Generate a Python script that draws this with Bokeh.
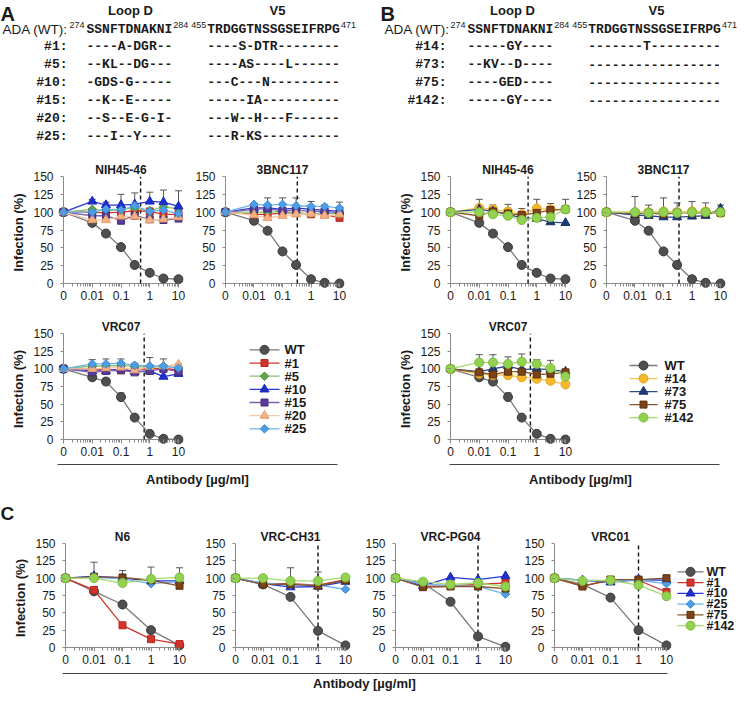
import math
from bokeh.plotting import figure
from bokeh.models import Range1d, FixedTicker, Whisker, TeeHead, ColumnDataSource
from bokeh.layouts import column, row
from bokeh.embed import file_html
from bokeh.resources import INLINE
from bokeh.core.properties import value

SANS = "Liberation Sans"
MONO = "Liberation Mono"
INK = "#1a1a1a"
AXIS = "#8a8a8a"
ERR = "#555555"
PI = math.pi

# ---------------- data ----------------
CONC_AB = [0, 0.01, 0.03, 0.1, 0.3, 1, 3, 10]
CONC_C = [0, 0.01, 0.1, 1, 10]
ZERO_AT = 0.001                      # the "0" concentration sits at the axis minimum
X_MAX = 10
Y_MAX = 150
X_TICKS = [0.001, 0.01, 0.1, 1, 10]
X_TICK_LABELS = ["0", "0.01", "0.1", "1", "10"]
Y_TICKS = [0, 25, 50, 75, 100, 125, 150]

SERIES_A = ["WT", "#1", "#5", "#10", "#15", "#20", "#25"]
SERIES_B = ["WT", "#14", "#73", "#75", "#142"]
SERIES_C = ["WT", "#1", "#10", "#25", "#75", "#142"]

wt_nih = [100, 85, 70, 51, 26, 15, 7, 6]
wt_3bnc = [100, 88, 74, 45, 26, 6, 1, 0]
wt_vrc07 = [100, 88, 82, 60, 31, 8, 1, 0]

a_nih = {"WT": wt_nih,
         "#1": [100, 100, 99, 100, 102, 101, 97, 97],
         "#5": [100, 104, 102, 104, 106, 102, 107, 105],
         "#10": [100, 115, 110, 110, 111, 115, 114, 108],
         "#15": [100, 95, 95, 88, 95, 90, 89, 91],
         "#20": [100, 89, 89, 94, 94, 89, 90, 93],
         "#25": [100, 100, 104, 103, 109, 101, 103, 98]}
a_3bnc = {"WT": wt_3bnc,
          "#1": [100, 97, 97, 99, 99, 97, 97, 92],
          "#5": [100, 100, 100, 101, 99, 98, 99, 97],
          "#10": [100, 106, 106, 104, 106, 104, 103, 101],
          "#15": [100, 104, 105, 102, 103, 101, 101, 99],
          "#20": [100, 96, 92, 95, 97, 98, 95, 97],
          "#25": [100, 111, 110, 111, 109, 108, 108, 106]}
a_vrc07 = {"WT": wt_vrc07,
           "#1": [100, 100, 99, 98, 99, 100, 101, 98],
           "#5": [100, 104, 104, 105, 103, 102, 104, 101],
           "#10": [100, 97, 97, 100, 96, 97, 89, 93],
           "#15": [100, 95, 97, 98, 95, 97, 100, 96],
           "#20": [100, 100, 101, 102, 98, 103, 104, 106],
           "#25": [100, 107, 107, 108, 105, 104, 104, 101]}
b_nih = {"WT": wt_nih,
         "#14": [100, 106, 104, 101, 97, 105, 104, 104],
         "#73": [100, 104, 101, 97, 92, 91, 86, 85],
         "#75": [100, 95, 101, 98, 96, 99, 103, 104],
         "#142": [100, 100, 97, 95, 89, 92, 93, 104]}
b_3bnc = {"WT": wt_3bnc,
          "#14": [100, 100, 100, 101, 100, 101, 101, 99],
          "#73": [100, 96, 95, 93, 93, 94, 95, 105],
          "#75": [100, 98, 99, 97, 99, 99, 99, 99],
          "#142": [100, 100, 99, 100, 99, 100, 100, 100]}
b_vrc07 = {"WT": wt_vrc07,
           "#14": [100, 93, 91, 91, 88, 86, 83, 78],
           "#73": [100, 96, 100, 104, 99, 100, 99, 96],
           "#75": [100, 95, 92, 96, 96, 92, 93, 95],
           "#142": [100, 109, 109, 107, 110, 107, 101, 89]}

c_n6 = {"WT": [100, 81, 62, 25, 3],
        "#1": [100, 83, 32, 12, 5],
        "#10": [100, 103, 100, 96, 96],
        "#25": [100, 101, 99, 92, 95],
        "#75": [100, 102, 101, 97, 89],
        "#142": [100, 100, 93, 99, 101]}
c_ch31 = {"WT": [100, 91, 73, 24, 3],
          "#1": [100, 92, 92, 90, 98],
          "#10": [100, 92, 87, 88, 95],
          "#25": [100, 93, 90, 90, 84],
          "#75": [100, 91, 91, 89, 97],
          "#142": [100, 100, 96, 96, 101]}
c_pg04 = {"WT": [100, 93, 66, 16, 1],
          "#1": [100, 88, 89, 91, 93],
          "#10": [100, 89, 101, 98, 103],
          "#25": [100, 91, 90, 88, 77],
          "#75": [100, 87, 88, 88, 85],
          "#142": [100, 95, 91, 93, 88]}
c_vrc01 = {"WT": [100, 91, 72, 25, 3],
           "#1": [100, 89, 97, 97, 80],
           "#10": [100, 97, 94, 98, 97],
           "#25": [100, 97, 96, 97, 92],
           "#75": [100, 88, 98, 98, 100],
           "#142": [100, 96, 97, 90, 74]}

# upper error bars (0 = none visible)
a_nih_err = {"#10": [0, 3, 4, 15, 16, 13, 17, 22]}
a_3bnc_err = {"#25": [0, 0, 10, 9, 11, 7, 2, 8], "WT": [0, 0, 0, 0, 5, 0, 0, 0]}
a_vrc07_err = {"#25": [0, 6, 7, 6, 3, 12, 10, 6], "WT": [0, 0, 0, 6, 0, 0, 0, 0]}
b_nih_err = {"#14": [0, 12, 6, 10, 8, 13, 8, 14]}
b_3bnc_err = {"#14": [0, 22, 10, 19, 13, 14, 12, 11], "WT": [0, 0, 0, 0, 5, 0, 0, 0]}
b_vrc07_err = {"#142": [0, 11, 11, 10, 11, 6, 11, 0], "WT": [0, 0, 0, 6, 0, 0, 0, 0]}
c_n6_err = {"#10": [0, 20, 0, 0, 0], "#75": [0, 0, 10, 0, 0], "#142": [0, 0, 0, 17, 14]}
c_ch31_err = {"#142": [0, 0, 19, 13, 0]}

# dashed reference concentrations
A_DASH = [0.48, 0.33, 0.64]
B_DASH = [0.5, 0.35, 0.6]
C_DASH = [None, 1, 1, 1]

# sequence panel text
WT_LOOPD = "SSNFTDNAKNI"
WT_V5 = "TRDGGTNSSGSEIFRPG"
SUPS = ["274", "284", "455", "471"]
A_NAMES = ["#1:", "#5:", "#10:", "#15:", "#20:", "#25:"]
A_LOOPD = ["----A-DGR--", "--KL--DG---", "-GDS-G-----", "--K--E-----", "--S--E-G-I-", "---I--Y----"]
A_V5 = ["----S-DTR--------", "----AS----L------", "---C---N---------", "-----IA----------",
        "---W--H---F------", "---R-KS----------"]
B_NAMES = ["#14:", "#73:", "#75:", "#142:"]
B_LOOPD = ["-----GY----", "--KV--D----", "----GED----", "-----GY----"]
B_V5 = ["-------T---------", "-----------------", "-----------------", "-----------------"]

STYLE = {
    "WT":   dict(m="circle",   s=9, f="#4f4f4f", o="#3a3a3a", lc="#7a7a7a", a=0.0),
    "#1":   dict(m="square",   s=7, f="#d0342c", o="#b82820", lc="#d0342c", a=0.0),
    "#5":   dict(m="square",   s=6, f="#62a84c", o="#4e9038", lc="#84c270", a=PI / 4),
    "#10":  dict(m="triangle", s=9, f="#1f2fcf", o="#1a27b0", lc="#2638d6", a=0.0),
    "#15":  dict(m="square",   s=7, f="#593c97", o="#46307a", lc="#7a62b3", a=0.0),
    "#20":  dict(m="triangle", s=9, f="#f3b184", o="#e59d6a", lc="#f6c7a6", a=0.0),
    "#25":  dict(m="square",   s=6, f="#4d9ee6", o="#3a89d0", lc="#6db3ee", a=PI / 4),
    "#14":  dict(m="circle",   s=9, f="#f6b92e", o="#e3a31a", lc="#f3c650", a=0.0),
    "#73":  dict(m="triangle", s=9, f="#1d3a7a", o="#142c62", lc="#2a4a8a", a=0.0),
    "#75":  dict(m="square",   s=7, f="#7a4318", o="#5e3210", lc="#8a5428", a=0.0),
    "#142": dict(m="circle",   s=9, f="#93d150", o="#7cbc3a", lc="#a6d972", a=0.0),
}

MINOR = [k * 10.0 ** d for d in range(-3, 1) for k in range(2, 10)]
PAD = 5   # px of room around the axes so edge markers are not clipped


def xs_of(conc):
    return [c if c > 0 else ZERO_AT for c in conc]


def make_plot(title, conc, data, names, err, dash, box, axes, ylabel=False, title_offset=0):
    fig_l, fig_t, fig_r, fig_b = box
    x0, x1, ytop, ybot = axes
    fl, fr, ft, fb = x0 - PAD, x1 + PAD, ytop, ybot + PAD
    dec_px = 4.0 / (x1 - x0)
    u_px = float(Y_MAX) / (ybot - ytop)
    p = figure(width=fig_r - fig_l, height=fig_b - fig_t, x_axis_type="log",
               x_range=Range1d(10 ** (-3 - PAD * dec_px), 10 ** (1 + PAD * dec_px)),
               y_range=Range1d(-PAD * u_px, Y_MAX),
               min_border_left=fl - fig_l, min_border_right=fig_r - fr,
               min_border_top=ft - fig_t, min_border_bottom=fig_b - fb,
               output_backend="svg", toolbar_location=None, title=title)
    p.outline_line_color = None
    p.xgrid.visible = False
    p.ygrid.visible = False
    t = p.title
    t.align = "center"
    t.text_font = SANS
    t.text_font_size = "12px"
    t.text_font_style = "bold"
    t.text_color = INK
    t.offset = title_offset
    if "standoff" in t.properties():
        t.standoff = 0

    xa = p.xaxis[0]
    ya = p.yaxis[0]
    xa.ticker = FixedTicker(ticks=X_TICKS, minor_ticks=MINOR)
    xa.major_label_overrides = dict(zip(X_TICKS, X_TICK_LABELS))
    xa.bounds = (ZERO_AT, X_MAX)
    ya.ticker = FixedTicker(ticks=Y_TICKS, minor_ticks=[])
    ya.bounds = (0, Y_MAX)
    for ax in (xa, ya):
        ax.axis_line_color = None
        ax.major_tick_line_color = AXIS
        ax.minor_tick_line_color = AXIS
        ax.major_label_text_font = SANS
        ax.major_label_text_font_size = "12px"
        ax.major_label_text_color = INK
    # ticks start at the drawn axis line (PAD px inside the frame edge)
    xa.major_tick_in = PAD
    xa.major_tick_out = -1
    xa.minor_tick_in = PAD
    xa.minor_tick_out = -2
    xa.major_label_standoff = 3
    ya.major_tick_in = PAD
    ya.major_tick_out = -2
    ya.minor_tick_in = 0
    ya.minor_tick_out = -2
    ya.major_label_standoff = 5
    if ylabel:
        ya.axis_label = "Infection (%)"
        ya.axis_label_text_font = SANS
        ya.axis_label_text_font_size = "13px"
        ya.axis_label_text_font_style = "bold"
        ya.axis_label_text_color = INK
        ya.axis_label_standoff = 4

    # axis lines at concentration "0" and at 0 % infection
    p.segment(x0=[ZERO_AT, ZERO_AT], y0=[0, 0], x1=[X_MAX, ZERO_AT], y1=[0, Y_MAX],
              line_color=AXIS, line_width=1)

    if dash is not None:
        p.segment(x0=[dash], y0=[0], x1=[dash], y1=[Y_MAX], line_color="#111111",
                  line_width=1.4, line_dash="4 3")

    xs = xs_of(conc)
    for n, e in err.items():
        idx = [i for i, v in enumerate(e) if v > 0]
        src = ColumnDataSource(dict(x=[xs[i] for i in idx],
                                    lo=[data[n][i] for i in idx],
                                    hi=[data[n][i] + e[i] for i in idx]))
        p.add_layout(Whisker(source=src, base="x", lower="lo", upper="hi", dimension="height",
                             line_color=ERR, line_width=1,
                             upper_head=TeeHead(size=7, line_color=ERR, line_width=1),
                             lower_head=None))
    for n in names:
        st = STYLE[n]
        p.line(xs, data[n], line_color=st["lc"], line_width=1.3)
        p.scatter(xs, data[n], marker=st["m"], size=st["s"], fill_color=st["f"],
                  line_color=st["o"], angle=st["a"])
    return p


def canvas(left, top, w, h):
    p = figure(width=w, height=h, x_range=Range1d(left, left + w), y_range=Range1d(top + h, top),
               x_axis_location=None, y_axis_location=None, min_border=0,
               output_backend="svg", toolbar_location=None)
    p.outline_line_color = None
    p.xgrid.visible = False
    p.ygrid.visible = False
    return p


def txt(p, xs, ys, texts, font, size, bold=False, align="left", color=INK):
    p.text(x=xs, y=ys, text=texts, text_font=value(font), text_font_size=value(size),
           text_font_style="bold" if bold else "normal", text_align=align,
           text_baseline="middle", text_color=color)


def draw_legend(p, names, x_line0, x_line1, x_label, y_first, pitch, font="13px"):
    for k, n in enumerate(names):
        st = STYLE[n]
        y = y_first + k * pitch
        p.segment(x0=[x_line0], y0=[y], x1=[x_line1], y1=[y], line_color=st["lc"], line_width=1.3)
        p.scatter([(x_line0 + x_line1) / 2.0], [y], marker=st["m"], size=st["s"], fill_color=st["f"],
                  line_color=st["o"], angle=st["a"])
    txt(p, [x_label] * len(names), [y_first + k * pitch for k in range(len(names))], names,
        SANS, font, bold=True)


# ---------------- row 1: sequences ----------------
seq = canvas(8, 8, 737, 154)
txt(seq, [8, 388], [21, 21], ["A", "B"], SANS, "20px", bold=True)
txt(seq, [138, 285, 520, 664], [18, 18, 18, 18], ["Loop D", "V5", "Loop D", "V5"], SANS, "13px",
    bold=True, align="center")
CH = 7.8
for ox, adax, labx, rows_n, rows_l, rows_v in [(94, 10, 75, A_NAMES, A_LOOPD, A_V5),
                                               (475, 392, 454, B_NAMES, B_LOOPD, B_V5)]:
    v5x = ox + len(WT_LOOPD) * CH + 35
    txt(seq, [adax], [37], ["ADA (WT):"], SANS, "13.5px")
    txt(seq, [ox - 17, ox + len(WT_LOOPD) * CH + 1, v5x - 16, v5x + len(WT_V5) * CH + 1],
        [32] * 4, SUPS, SANS, "9px")
    txt(seq, [ox, v5x], [37, 37], [WT_LOOPD, WT_V5], MONO, "13px", bold=True)
    ys = [54 + 18 * i for i in range(len(rows_n))]
    txt(seq, [labx] * len(rows_n), ys, rows_n, MONO, "13px", bold=True, align="right")
    txt(seq, [ox] * len(rows_n), ys, rows_l, MONO, "13px", bold=True)
    txt(seq, [v5x] * len(rows_n), ys, rows_v, MONO, "13px", bold=True)

# ---------------- row 2 ----------------
r2 = [
    make_plot("NIH45-46", CONC_AB, a_nih, SERIES_A, a_nih_err, A_DASH[0], (8, 162, 200, 312),
              (71, 186, 184, 291), ylabel=True, title_offset=3),
    make_plot("3BNC117", CONC_AB, a_3bnc, SERIES_A, a_3bnc_err, A_DASH[1], (200, 162, 385, 312),
              (232, 347, 184, 291)),
    make_plot("NIH45-46", CONC_AB, b_nih, SERIES_B, b_nih_err, B_DASH[0], (385, 162, 581, 312),
              (458, 573, 184, 291), ylabel=True, title_offset=3),
    make_plot("3BNC117", CONC_AB, b_3bnc, SERIES_B, b_3bnc_err, B_DASH[1], (581, 162, 745, 312),
              (613, 728, 184, 291), title_offset=2),
]

# ---------------- row 3 ----------------
legA = canvas(245, 312, 140, 156)
draw_legend(legA, SERIES_A, 257, 287, 292, 335, 18.5)
legB = canvas(625, 312, 120, 156)
draw_legend(legB, SERIES_B, 637, 665, 672, 357, 18.3)
r3 = [
    make_plot("VRC07", CONC_AB, a_vrc07, SERIES_A, a_vrc07_err, A_DASH[2], (8, 312, 245, 468),
              (71, 186, 341, 447), ylabel=True, title_offset=6),
    legA,
    make_plot("VRC07", CONC_AB, b_vrc07, SERIES_B, b_vrc07_err, B_DASH[2], (385, 312, 625, 468),
              (458, 573, 341, 447), ylabel=True, title_offset=2),
    legB,
]

# ---------------- row 4: x captions A/B + panel letter C ----------------
cap1 = canvas(8, 468, 737, 64)
cap1.segment(x0=[65, 457], y0=[472, 472], x1=[345, 727], y1=[472, 472], line_color="#444444", line_width=1)
txt(cap1, [205, 588], [487, 487], ["Antibody [µg/ml]"] * 2, SANS, "13px", bold=True, align="center")
txt(cap1, [8], [521], ["C"], SANS, "19px", bold=True)

# ---------------- row 5: panel C ----------------
c_titles = ["N6", "VRC-CH31", "VRC-PG04", "VRC01"]
c_data = [c_n6, c_ch31, c_pg04, c_vrc01]
c_err = [c_n6_err, c_ch31_err, {}, {}]
c_boxes = [(8, 532, 200, 678), (200, 532, 360, 678), (360, 532, 520, 678), (520, 532, 683, 678)]
c_axes = [(73, 187, 551, 655), (243, 353, 551, 655), (403, 513, 551, 655), (562, 674, 551, 655)]
c_off = [2, -6, -4, -4]
r5 = []
for i in range(4):
    r5.append(make_plot(c_titles[i], CONC_C, c_data[i], SERIES_C, c_err[i], C_DASH[i], c_boxes[i],
                        c_axes[i], ylabel=(i == 0), title_offset=c_off[i]))
legC = canvas(683, 532, 62, 146)
draw_legend(legC, SERIES_C, 685, 711, 714, 570, 14.4, font="12.5px")
r5.append(legC)

# ---------------- row 6 ----------------
cap2 = canvas(8, 678, 737, 21)
cap2.segment(x0=[70], y0=[681], x1=[675], y1=[681], line_color="#444444", line_width=1)
txt(cap2, [372], [691], ["Antibody [µg/ml]"], SANS, "13px", bold=True, align="center")

layout = column(row(seq), row(*r2), row(*r3), row(cap1), row(*r5), row(cap2))
open("out.html", "w").write(file_html(layout, INLINE))
